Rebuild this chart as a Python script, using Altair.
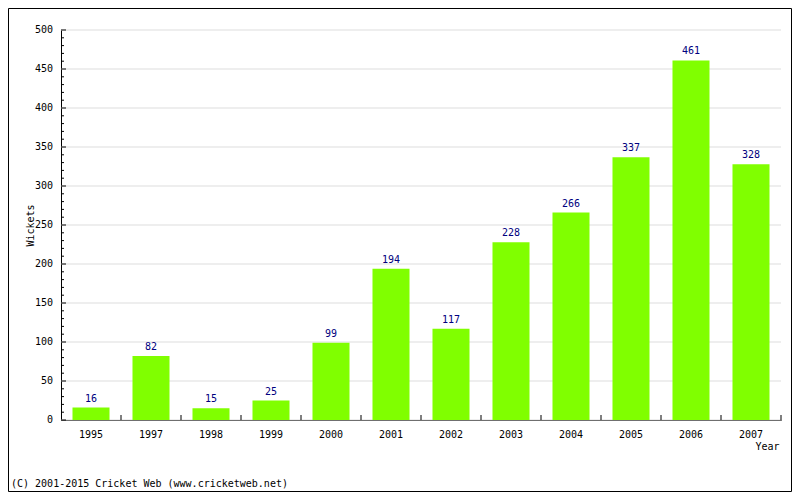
import altair as alt
import pandas as pd

years = ["1995", "1997", "1998", "1999", "2000", "2001", "2002", "2003", "2004", "2005", "2006", "2007"]
wickets = [16, 82, 15, 25, 99, 194, 117, 228, 266, 337, 461, 328]
major_ticks = [0, 50, 100, 150, 200, 250, 300, 350, 400, 450, 500]
minor_ticks = [v for v in range(0, 501, 10) if v % 50 != 0]
copyright_text = "(C) 2001-2015 Cricket Web (www.cricketweb.net)"

FONT = "DejaVu Sans Mono"
BAR_COLOR = "#80ff00"
LABEL_COLOR = "#000080"

df = pd.DataFrame({"Year": years, "Wickets": wickets})
df_major = pd.DataFrame({"Wickets": major_ticks})
df_minor = pd.DataFrame({"Wickets": minor_ticks})
df_note = pd.DataFrame({"note": [copyright_text]})

x_axis = alt.Axis(
    title="Year", labelAngle=0, ticks=False, tickSize=0, labelPadding=9,
    titleX=718, titleY=29, titleAlign="right", titleBaseline="alphabetic",
)
x_scale = alt.Scale(paddingInner=0, paddingOuter=0)
y_axis = alt.Axis(
    labels=False, ticks=False, tickSize=0, grid=False, title="Wickets",
    titleX=-28, titleY=195, titleAngle=270, titleAlign="center",
    titleBaseline="alphabetic",
)
y_scale = alt.Scale(domain=[0, 500], nice=False)

x_enc = alt.X("Year:N", sort=None, scale=x_scale, axis=x_axis)
y_enc = alt.Y("Wickets:Q", scale=y_scale, axis=y_axis)

grid = alt.Chart(df_major).mark_rule(color="#dddddd", strokeWidth=1).encode(
    y=y_enc, x=alt.value(0), x2=alt.value(720)
)
ylabels = alt.Chart(df_major).mark_text(
    font=FONT, fontSize=10, color="black", align="right", baseline="middle"
).encode(y=y_enc, x=alt.value(-8), text="Wickets:Q")

bars = alt.Chart(df).mark_bar(color=BAR_COLOR, width=alt.RelativeBandSize(0.617)).encode(
    x=x_enc, y=y_enc
)
labels = alt.Chart(df).mark_text(
    font=FONT, fontSize=10, color=LABEL_COLOR, dy=-6, baseline="alphabetic"
).encode(x=x_enc, y=y_enc, text="Wickets:Q")

xticks = alt.Chart(df).mark_rule(color="black", strokeWidth=1).encode(
    x=alt.X("Year:N", sort=None, scale=x_scale, axis=x_axis, bandPosition=1),
    y=alt.value(385), y2=alt.value(390),
)
ymajor = alt.Chart(df_major).mark_rule(color="black", strokeWidth=1).encode(
    y=y_enc, x=alt.value(0), x2=alt.value(5)
)
yminor = alt.Chart(df_minor).mark_rule(color="black", strokeWidth=1).encode(
    y=y_enc, x=alt.value(0), x2=alt.value(3)
)
border = alt.Chart(df_note).mark_rect(
    fill="transparent", stroke="black", strokeWidth=1
).encode(
    x=alt.value(-52.5), x2=alt.value(730.5), y=alt.value(-21.5), y2=alt.value(461.5)
)
note = alt.Chart(df_note).mark_text(
    font=FONT, fontSize=10, color="black", align="left", baseline="alphabetic"
).encode(x=alt.value(-50), y=alt.value(457), text="note:N")

chart = alt.layer(grid, bars, labels, xticks, ymajor, yminor, ylabels, border, note).properties(
    width=720,
    height=390,
    autosize=alt.AutoSizeParams(type="none"),
    padding={"left": 53, "top": 22, "right": 11, "bottom": 72},
    background="white",
).configure_view(stroke=None).configure_axis(
    labelFont=FONT, titleFont=FONT, labelFontSize=10, titleFontSize=10,
    titleFontWeight="normal", labelColor="black", titleColor="black",
    domainColor="black", domainWidth=1,
)

chart.save("out.html", embed_options={"renderer": "svg", "actions": False})
